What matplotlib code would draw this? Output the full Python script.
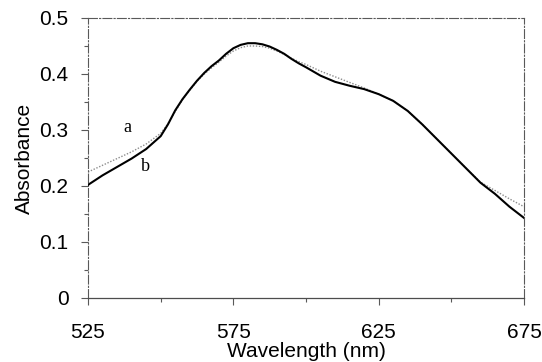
import matplotlib
matplotlib.use("Agg")
import matplotlib.pyplot as plt
from matplotlib.ticker import MultipleLocator, FuncFormatter

# Absorption spectra; finer sampling across the main band
wavelength = [525, 530, 535, 540, 545, 550, 552.5, 555, 557.5, 560, 562.5, 565, 567.5,
              570, 572.5, 575, 577.5, 580, 582.5, 585, 587.5, 590, 592.5, 595, 597.5,
              600, 605, 610, 615, 620, 625, 630, 635, 640, 645, 650, 655, 660, 665,
              670, 675]
absorb_a = [0.225, 0.237, 0.249, 0.261, 0.275, 0.294, 0.311, 0.333, 0.354, 0.371, 0.387,
            0.400, 0.411, 0.421, 0.432, 0.441, 0.447, 0.450, 0.450, 0.449, 0.446, 0.441,
            0.435, 0.428, 0.422, 0.417, 0.405, 0.395, 0.385, 0.375, 0.364, 0.352, 0.334,
            0.310, 0.284, 0.258, 0.232, 0.207, 0.192, 0.177, 0.163]
absorb_b = [0.202, 0.219, 0.234, 0.249, 0.266, 0.289, 0.310, 0.335, 0.355, 0.372, 0.388,
            0.402, 0.414, 0.424, 0.436, 0.446, 0.452, 0.455, 0.455, 0.453, 0.449, 0.443,
            0.436, 0.427, 0.419, 0.412, 0.397, 0.386, 0.379, 0.373, 0.364, 0.352, 0.334,
            0.310, 0.284, 0.258, 0.232, 0.206, 0.186, 0.163, 0.143]
x_ticks = [525, 575, 625, 675]
y_ticks = [0, 0.1, 0.2, 0.3, 0.4, 0.5]

sans = ["Liberation Sans", "DejaVu Sans"]
serif = ["Liberation Serif", "DejaVu Serif"]

fig = plt.figure(figsize=(5.42, 3.62), dpi=100)
ax = fig.add_axes([0.1624, 0.1768, 0.8044, 0.7735])

ax.plot(wavelength, absorb_a, color="0.55", lw=1.0, ls=(0, (1, 1.2)), zorder=2)
ax.plot(wavelength, absorb_b, color="black", lw=1.5, zorder=3,
        solid_joinstyle="round")

ax.text(538.4, 0.304, "a", family=serif, fontsize=13, ha="center", va="center")
ax.text(544.6, 0.234, "b", family=serif, fontsize=13, ha="center", va="center")

ax.set_xlim(525, 675)
ax.set_ylim(0, 0.5)
ax.set_xticks(x_ticks)
ax.set_yticks(y_ticks)
ax.xaxis.set_minor_locator(MultipleLocator(25))
ax.yaxis.set_minor_locator(MultipleLocator(0.05))
ax.yaxis.set_major_formatter(FuncFormatter(lambda v, p: "0" if abs(v) < 1e-9 else f"{v:.1f}"))

for lab in ax.get_xticklabels() + ax.get_yticklabels():
    lab.set_family(sans)
    lab.set_fontsize(15)

ax.tick_params(which="major", direction="out", length=5, width=0.8, color="0.35")
ax.tick_params(which="minor", direction="out", length=3, width=0.8, color="0.35")
ax.tick_params(axis="x", which="major", pad=13)
ax.tick_params(axis="y", which="major", pad=9)

for side in ["top", "right", "left"]:
    ax.spines[side].set_linestyle((0, (8, 2, 1, 2)))
    ax.spines[side].set_color("0.35")
    ax.spines[side].set_linewidth(0.8)
ax.spines["bottom"].set_color("0.3")
ax.spines["bottom"].set_linewidth(0.9)

ax.set_xlabel("Wavelength (nm)", family=sans, fontsize=15, labelpad=0)
ax.set_ylabel("Absorbance", family=sans, fontsize=15, labelpad=4)

fig.savefig("out.png", dpi=100)
